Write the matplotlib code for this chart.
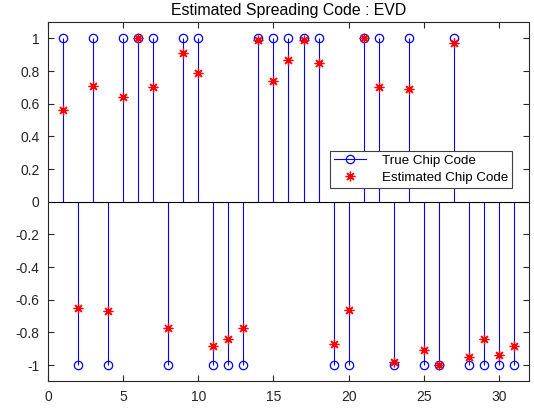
import matplotlib
matplotlib.use("Agg")
import matplotlib.pyplot as plt
from matplotlib.legend_handler import HandlerLine2D
from matplotlib.lines import Line2D
import numpy as np

plt.rcParams['font.family'] = ['Liberation Sans', 'DejaVu Sans']

# chip index, true spreading code and the EVD estimate
chips = list(range(1, 32))
true_code = [1, -1, 1, -1, 1, 1, 1, -1, 1, 1, -1, -1, -1, 1, 1, 1,
             1, 1, -1, -1, 1, 1, -1, 1, -1, -1, 1, -1, -1, -1, -1]
est_code = [0.56, -0.65, 0.71, -0.67, 0.64, 1.00, 0.70, -0.77, 0.91, 0.79,
            -0.88, -0.84, -0.77, 0.99, 0.74, 0.87, 0.99, 0.85, -0.87, -0.66,
            1.00, 0.70, -0.98, 0.69, -0.91, -1.00, 0.97, -0.95, -0.84, -0.94,
            -0.88]
x_ticks = [0, 5, 10, 15, 20, 25, 30]
y_ticks = [-1, -0.8, -0.6, -0.4, -0.2, 0, 0.2, 0.4, 0.6, 0.8, 1]


class HandlerStem(HandlerLine2D):
    """legend entry with the marker at the right end of the line"""
    def get_xdata(self, legend, xdescent, ydescent, width, height, fontsize):
        xdata, _ = super().get_xdata(legend, xdescent, ydescent, width, height, fontsize)
        return xdata, xdata[-1:]


fig = plt.figure(figsize=(5.34, 4.08), dpi=100)
ax = fig.add_axes([0.0899, 0.065, 0.9007, 0.881])

ax.vlines(chips, 0, true_code, colors='#0000ff', lw=0.8, zorder=2)
ax.plot(chips, true_code, 'o', ms=6, mfc='none', mec='#0000ff', mew=0.9, zorder=3)
ax.axhline(0, color='black', lw=0.8, zorder=2)
ax.plot(chips, est_code, ls='none', marker=(8, 2, 0), ms=7, color='red', mew=0.9, zorder=4)

ax.set_xlim(0, 32)
ax.set_ylim(-1.1, 1.1)
ax.set_xticks(x_ticks)
ax.set_yticks(y_ticks)
ax.set_yticklabels(['-1', '-0.8', '-0.6', '-0.4', '-0.2', '0', '0.2', '0.4', '0.6', '0.8', '1'])
ax.tick_params(direction='in', length=4, width=0.8, top=True, right=True,
               labelsize=10, colors='#262626', pad=6)
for sp in ax.spines.values():
    sp.set_color('#262626')
    sp.set_linewidth(0.8)

ax.set_title('Estimated Spreading Code : EVD', fontsize=11.4, pad=5)

h_true = Line2D([], [], color='#0000ff', lw=0.8, marker='o', ms=6, mfc='none', mew=0.9)
h_est = Line2D([], [], ls='none', marker=(8, 2, 0), ms=7, color='red', mew=0.9)
leg = ax.legend([h_true, h_est], ['True Chip Code', 'Estimated Chip Code'],
                handler_map={h_true: HandlerStem(numpoints=1)},
                loc='upper right', bbox_to_anchor=(0.9647, 0.6425),
                fontsize=9.6, fancybox=False, framealpha=1, edgecolor='#404040',
                handlelength=2.35, handletextpad=1.2, borderpad=0.3,
                labelspacing=0.35, borderaxespad=0)
leg.get_frame().set_linewidth(0.8)

fig.savefig('out.png', dpi=100)
